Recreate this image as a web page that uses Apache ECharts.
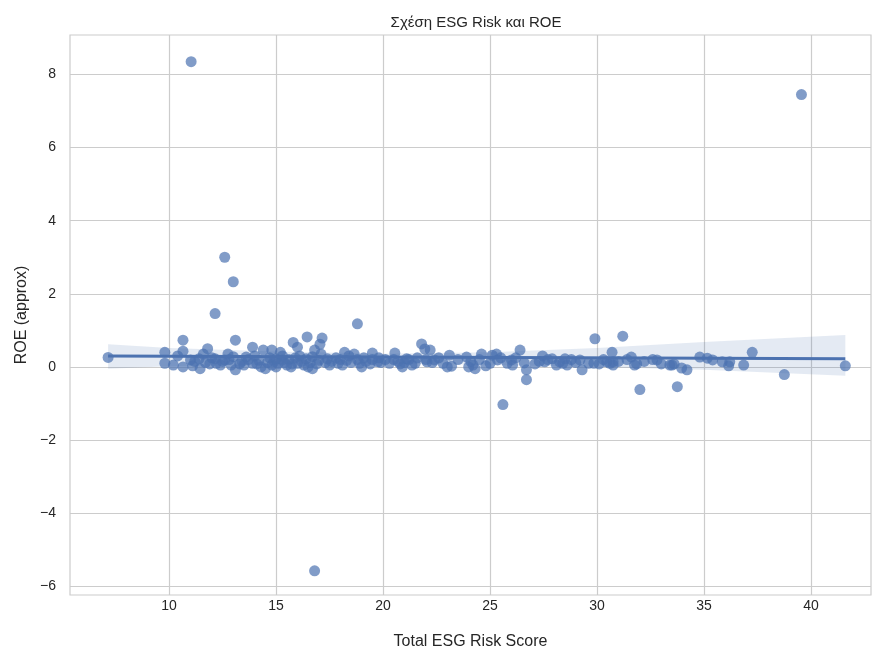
<!DOCTYPE html>
<html>
<head>
<meta charset="utf-8">
<script src="https://cdn.jsdelivr.net/npm/echarts@6/dist/echarts.min.js"></script>
<style>html,body{margin:0;padding:0;background:#fff;}#chart{width:872px;height:655px;}</style>
</head>
<body>
<div id="chart"></div>
<script>
// ---- data ----
const titleText = 'Σχέση ESG Risk και ROE';
const xName = 'Total ESG Risk Score';
const yName = 'ROE (approx)';
const xTicks = [10, 15, 20, 25, 30, 35, 40];
const yTicks = [-6, -4, -2, 0, 2, 4, 6, 8];

// [Total ESG Risk Score, ROE]
const notablePoints = [
  [7.15,0.26],[11.03,8.35],[39.55,7.45],[12.6,3.0],[13.0,2.33],[12.15,1.46],[18.8,1.18],
  [16.8,-5.58],[25.6,-1.03],[26.7,-0.35],[32.0,-0.62],[33.75,-0.54],[38.75,-0.21],[41.6,0.03],
  [29.9,0.77],[31.2,0.84],[37.25,0.4],[16.45,0.82],[17.15,0.79],[13.1,0.73],[10.65,0.73],
  [15.8,0.67],[21.8,0.63],[17.05,0.62],[26.4,0.46],[30.7,0.4]
];
const bandPoints = [
  [9.8,0.4],[9.8,0.1],[10.2,0.05],[10.4,0.3],[10.65,0.43],[10.65,0.0],[11.0,0.19],[11.1,0.03],
  [11.45,-0.05],[11.6,0.35],[11.8,0.5],[12.15,0.22],[12.4,0.05],[12.6,0.19],[12.75,0.35],
  [13.1,-0.08],[13.3,0.08],[13.6,0.27],[13.9,0.54],[14.1,0.08],[14.4,0.46],[14.8,0.46],
  [15.2,0.4],[14.5,-0.05],[15.0,0.0],[16.0,0.54],[16.8,0.46],[16.5,0.0],[16.7,-0.05],
  [17.5,0.05],[18.2,0.4],[15.75,0.08],[15.3,0.19],[15.5,0.05],[18.65,0.35],[19.0,0.0],
  [19.5,0.38],[19.75,0.14],[20.55,0.38],[20.8,0.08],[20.9,0.0],[21.1,0.22],[21.35,0.05],
  [21.95,0.49],[22.2,0.46],[22.05,0.14],[22.4,0.19],[23.0,0.0],[23.1,0.32],[23.2,0.02],
  [23.9,0.27],[24.0,0.0],[24.2,0.05],[24.3,-0.05],[24.6,0.35],[24.8,0.03],[25.1,0.32],
  [25.3,0.35],[25.35,0.19],[26.0,0.19],[26.05,0.05],[26.6,0.11],[26.7,-0.08],[27.1,0.08],
  [27.45,0.3],[27.55,0.14],[27.9,0.22],[28.25,0.14],[28.5,0.22],[28.6,0.05],[29.2,0.19],
  [29.3,-0.08],[29.85,0.1],[30.1,0.08],[30.45,0.14],[30.75,0.14],[30.75,0.05],[31.6,0.27],
  [31.75,0.05],[31.85,0.08],[32.8,0.19],[33.0,0.08],[33.4,0.05],[33.5,0.05],[33.6,0.08],
  [33.95,-0.03],[34.2,-0.08],[34.8,0.27],[35.15,0.24],[35.4,0.19],[35.85,0.14],[36.15,0.03],
  [36.2,0.14],[36.85,0.05]
];
const densePoints = [
  [11.2,0.15],[11.4,0.22],[11.7,0.12],[11.9,0.08],[12.0,0.25],[12.2,0.1],[12.5,0.15],[12.8,0.2],
  [12.9,0.05],[13.0,0.28],[13.4,0.15],[13.5,0.05],[13.7,0.2],[13.9,0.1],[14.0,0.3],[14.2,0.18],
  [14.3,0.0],[14.6,0.12],[14.7,0.25],[14.8,0.05],[14.9,0.15],[15.0,0.22],[15.1,0.1],[15.3,0.3],
  [15.4,0.12],[15.6,0.2],[15.7,0.0],[15.9,0.25],[16.0,0.1],[16.1,0.3],[16.2,0.15],[16.3,0.05],
  [16.4,0.22],[16.6,0.12],[16.7,0.28],[16.9,0.08],[17.0,0.18],[17.1,0.35],[17.3,0.12],[17.4,0.22],
  [17.6,0.15],[17.8,0.25],[17.9,0.1],[18.0,0.2],[18.1,0.05],[18.3,0.18],[18.4,0.3],[18.5,0.12],
  [18.8,0.2],[18.9,0.1],[19.1,0.25],[19.2,0.15],[19.4,0.08],[19.5,0.2],[19.8,0.25],[19.9,0.12],
  [20.1,0.2],[20.3,0.1],[20.5,0.2],[20.7,0.15],[21.0,0.12],[21.2,0.2],[21.5,0.1],[21.6,0.25],
  [22.0,0.2],[22.3,0.12],[22.6,0.25],[22.8,0.1],[23.5,0.2],[24.1,0.15],[24.5,0.2],[25.0,0.1],
  [25.5,0.25],[25.8,0.1],[26.2,0.25],[27.3,0.15],[27.7,0.2],[28.1,0.05],[28.4,0.1],[28.8,0.2],
  [29.0,0.12],[29.6,0.1],[30.3,0.2],[30.6,0.1],[31.0,0.15],[31.4,0.2],[32.2,0.15],[32.6,0.2]
];

// regression line and its confidence band
const fitX = [7.15, 41.6];
const fitY = [0.30, 0.22];
const bandX     = [7.15, 10,   15,   20,   25,   30,   35,   41.6];
const bandUpper = [0.62, 0.52, 0.42, 0.36, 0.40, 0.52, 0.68, 0.87];
const bandLower = [-0.05,0.02, 0.08, 0.10, 0.06, 0.00, -0.08,-0.24];

// ---- chart ----
const points = notablePoints.concat(bandPoints, densePoints);
const blue = '#4c72b0';
const txt = '#262626';
const gridCol = '#cccccc';
const font = '"Liberation Sans", Arial, sans-serif';
const minus = v => String(v).replace('-', '\u2212');

const chart = echarts.init(document.getElementById('chart'), null, {renderer: 'canvas'});
chart.setOption({
  backgroundColor: '#ffffff',
  animation: false,
  title: {
    text: titleText, left: 471, top: 10, textAlign: 'center',
    textStyle: {fontFamily: font, fontSize: 15, fontWeight: 'normal', color: txt}
  },
  grid: {left: 70, top: 35, right: 1, bottom: 47, containLabel: false,
         show: true, borderColor: gridCol, borderWidth: 1.2},
  xAxis: {
    type: 'value', min: 5.37, max: 42.8,
    name: xName, nameLocation: 'middle', nameGap: 39,
    nameTextStyle: {fontFamily: font, fontSize: 16, color: txt},
    axisLine: {show: false},
    axisTick: {show: false, customValues: xTicks},
    axisLabel: {customValues: xTicks, fontFamily: font, fontSize: 14, color: txt, margin: 4},
    splitLine: {show: true, lineStyle: {color: gridCol, width: 1.2}}
  },
  yAxis: {
    type: 'value', min: -6.24, max: 9.08,
    name: yName, nameLocation: 'middle', nameGap: 40, nameRotate: 90,
    nameTextStyle: {fontFamily: font, fontSize: 16, color: txt},
    axisLine: {show: false},
    axisTick: {show: false, customValues: yTicks},
    axisLabel: {customValues: yTicks, fontFamily: font, fontSize: 14, color: txt, margin: 14,
                formatter: v => minus(v)},
    splitLine: {show: true, lineStyle: {color: gridCol, width: 1.2}}
  },
  series: [
    {
      type: 'scatter', data: points, symbolSize: 11,
      itemStyle: {color: blue, opacity: 0.7}, z: 2
    },
    {
      type: 'custom', data: [[bandX[0], bandUpper[0]]], z: 3, silent: true,
      renderItem: function (params, api) {
        const pts = [];
        for (let i = 0; i < bandX.length; i++) pts.push(api.coord([bandX[i], bandUpper[i]]));
        for (let i = bandX.length - 1; i >= 0; i--) pts.push(api.coord([bandX[i], bandLower[i]]));
        return {
          type: 'polygon',
          shape: {points: pts},
          style: {fill: blue, opacity: 0.15}
        };
      }
    },
    {
      type: 'line', data: fitX.map((x, i) => [x, fitY[i]]), symbol: 'none',
      lineStyle: {color: blue, width: 3}, z: 4
    }
  ]
});
</script>
</body>
</html>
